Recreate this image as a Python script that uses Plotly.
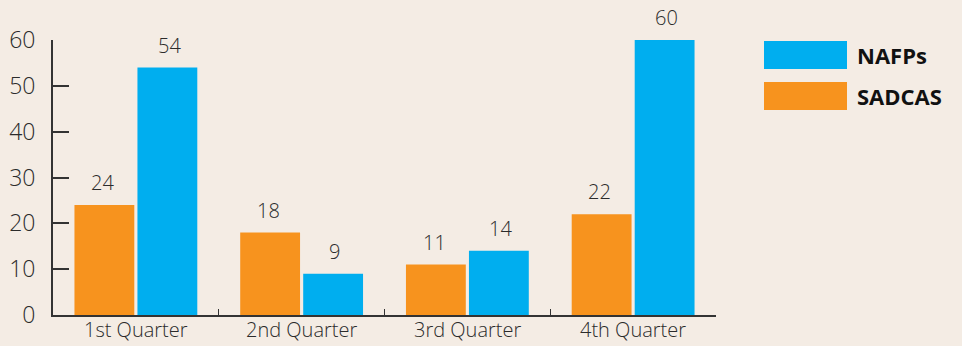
import plotly.graph_objects as go

quarters = ["1st Quarter", "2nd Quarter", "3rd Quarter", "4th Quarter"]
sadcas = [24, 18, 11, 22]
nafps = [54, 9, 14, 60]
series_names = ["SADCAS", "NAFPs"]
colors = {"SADCAS": "#f7931e", "NAFPs": "#00aeef"}

font_family = "'Open Sans', sans-serif"
text_color = "#2b2b2b"

fig = go.Figure()
for name, vals in zip(series_names, [sadcas, nafps]):
    fig.add_trace(go.Bar(
        x=quarters, y=vals, name=name,
        marker=dict(color=colors[name], line=dict(width=0)),
        offsetgroup=name, showlegend=False, cliponaxis=False,
    ))

# Value labels above each bar
for i, (name, vals) in enumerate(zip(series_names, [sadcas, nafps])):
    shift = -0.2 if i == 0 else 0.2
    for q, v in enumerate(vals):
        fig.add_annotation(
            x=q + shift, y=v, xref="x", yref="y",
            text=str(v), showarrow=False, yanchor="bottom", yshift=7,
            font=dict(size=20, color=text_color, family=font_family, weight=300),
        )

# Category labels under the axis
for q, label in enumerate(quarters):
    fig.add_annotation(
        x=q, y=0, xref="x", yref="paper",
        text=label, showarrow=False, yanchor="top", yshift=1,
        font=dict(size=20, color=text_color, family=font_family, weight=300),
    )

# Custom legend: wide swatches with bold labels
legend_items = ["NAFPs", "SADCAS"]
for i, name in enumerate(legend_items):
    top = 41 + i * 41
    fig.add_shape(type="rect", xref="paper", yref="paper",
                  x0=(764 - 53) / 663, x1=(847 - 53) / 663,
                  y0=(315 - top - 28) / 275, y1=(315 - top) / 275,
                  fillcolor=colors[name], line=dict(width=0))
    fig.add_annotation(xref="paper", yref="paper",
                       x=(855 - 53) / 663, y=(315 - top - 14) / 275,
                       text=name, showarrow=False,
                       xanchor="left", yanchor="middle",
                       font=dict(size=22, color="#111111", family=font_family, weight=700))

fig.update_layout(
    width=962, height=346,
    margin=dict(l=53, r=246, t=40, b=31, autoexpand=False),
    paper_bgcolor="#f4ece4", plot_bgcolor="rgba(0,0,0,0)",
    barmode="group", bargap=0.24, bargroupgap=0.05,
    font=dict(family=font_family, color=text_color),
)
fig.update_xaxes(
    showline=True, linecolor="#333333", linewidth=2,
    ticks="inside", tickson="boundaries", ticklen=6, tickcolor="#333333",
    showticklabels=False,
    showgrid=False, automargin=False,
)
fig.update_yaxes(
    range=[0, 60], dtick=10,
    showline=True, linecolor="#333333", linewidth=2,
    ticks="inside", ticklen=16, tickcolor="#333333", tickwidth=2,
    tickfont=dict(size=23, color=text_color, family=font_family, weight=300),
    showgrid=False, zeroline=False, ticklabelstandoff=11, automargin=False,
)

fig.write_html("out.html")
